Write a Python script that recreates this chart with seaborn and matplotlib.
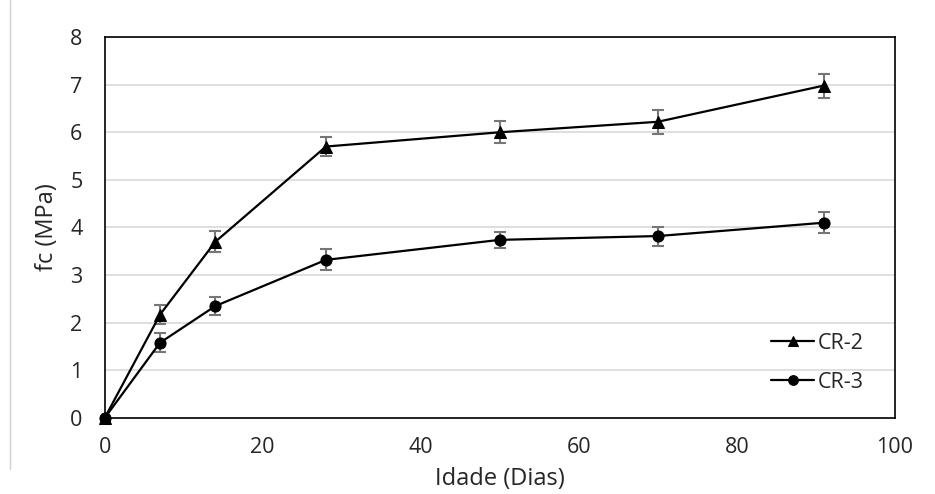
import pandas as pd
import matplotlib.pyplot as plt
import seaborn as sns

# Idade (dias) e resistência à compressão
dias = [0, 7, 14, 28, 50, 70, 91]
cr2 = [0, 2.17, 3.70, 5.70, 6.00, 6.22, 6.98]
cr2_err = [0, 0.20, 0.22, 0.20, 0.23, 0.25, 0.25]
cr3 = [0, 1.58, 2.35, 3.32, 3.74, 3.82, 4.10]
cr3_err = [0, 0.20, 0.18, 0.22, 0.17, 0.20, 0.22]
series = ['CR-2', 'CR-3']

df = pd.DataFrame({
    'dias': dias * 2,
    'fc': cr2 + cr3,
    'err': cr2_err + cr3_err,
    'serie': [series[0]] * len(dias) + [series[1]] * len(dias),
})

sns.set_style('white')
plt.rcParams['font.family'] = ['Open Sans', 'DejaVu Sans']

fig = plt.figure(figsize=(9.35, 4.94), dpi=100)
ax = fig.add_axes([0.112, 0.154, 0.845, 0.771])

# error bars first so the lines sit on top
for s in series:
    d = df[df['serie'] == s]
    ax.errorbar(d['dias'], d['fc'], yerr=d['err'], fmt='none',
                ecolor='#767676', elinewidth=1.5, capsize=4, capthick=1.5,
                zorder=2)

sns.lineplot(data=df, x='dias', y='fc', hue='serie', style='serie',
             markers={'CR-2': '^', 'CR-3': 'o'}, dashes=False,
             palette={'CR-2': 'black', 'CR-3': 'black'},
             markersize=8, markeredgecolor='black', linewidth=1.6,
             ax=ax, zorder=3, clip_on=False)

ax.set_xlim(0, 100)
ax.set_ylim(0, 8)
ax.set_xticks(range(0, 101, 20))
ax.set_yticks(range(0, 9))
ax.yaxis.grid(True, color='#d9d9d9', linewidth=1.2)
ax.set_axisbelow(True)
for sp in ax.spines.values():
    sp.set_color('black')
    sp.set_linewidth(1.2)
ax.tick_params(labelsize=15.5, length=0)
ax.tick_params(axis='x', pad=14)
ax.tick_params(axis='y', pad=16)
ax.set_xlabel('Idade (Dias)', fontsize=17, labelpad=6)
ax.set_ylabel('fc (MPa)', fontsize=17, labelpad=8)

handles, labels = ax.get_legend_handles_labels()
for h in handles:
    h.set_markeredgecolor('black')
    h.set_markersize(7)
ax.legend(handles, labels, title=None, frameon=False, loc='lower right',
          bbox_to_anchor=(0.985, 0.015), fontsize=15.5, handlelength=2.0,
          handletextpad=0.15, labelspacing=0.85)

fig.add_artist(plt.Line2D([0.011, 0.011], [0.05, 1.0], color='#d0d0d0',
                          linewidth=1))

plt.savefig('out.png')
